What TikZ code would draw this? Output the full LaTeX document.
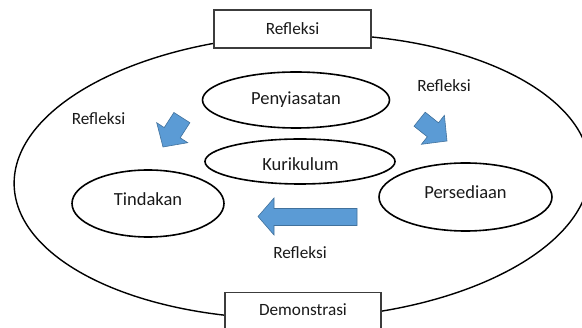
\documentclass[tikz,border=0pt]{standalone}
\usepackage{fontspec}
\setmainfont{Carlito}
\usetikzlibrary{shapes.geometric}
\definecolor{arrowfill}{HTML}{5B9BD5}
\definecolor{arrowline}{HTML}{41719C}
\definecolor{ink}{HTML}{1A1A1A}
\tikzset{
  ell/.style={draw=black, line width=1.6pt, ellipse, inner sep=0pt},
  outer/.style={draw=black, line width=1.4pt, ellipse, inner sep=0pt},
  box/.style={draw=ink!85, line width=1.4pt, fill=white, rectangle, inner sep=0pt},
  lbl/.style={text=ink, font=\fontsize{18.5}{20}\selectfont, inner sep=0pt},
  reflbl/.style={text=ink, font=\fontsize{17.2}{19}\selectfont, inner sep=0pt},
  blockarrow/.style={fill=arrowfill, draw=arrowline, line width=0.6pt, line join=miter}
}
\begin{document}
\begin{tikzpicture}[x=1pt, y=-1pt]
\useasboundingbox (0,0) rectangle (582,328);
\clip (0,0) rectangle (582,328);
% big outer ellipse
\node[outer, minimum width=576, minimum height=284, rotate=1.8] (big) at (302,176.5) {};
% top and bottom boxes
\node[box, minimum width=157, minimum height=38] (topbox) at (292.5,29) {};
\node[reflbl] (toptxt) at (topbox.center) {Refleksi};
\node[box, minimum width=156, minimum height=60, anchor=north] (botbox) at (303,292) {};
\node[reflbl] (bottxt) at (303,310) {Demonstrasi};
% inner ellipses
\node[ell, minimum width=187, minimum height=56] (peny) at (296,100) {};
\node[lbl] (penytxt) at (296,100) {Penyiasatan};
\node[ell, minimum width=190, minimum height=45] (kuri) at (300,161.5) {};
\node[lbl] (kuritxt) at (300.5,164) {Kurikulum};
\node[ell, minimum width=152, minimum height=67] (tind) at (148,203.5) {};
\node[lbl] (tindtxt) at (148,199) {Tindakan};
\node[ell, minimum width=173, minimum height=68] (pers) at (465.5,197) {};
\node[lbl] (perstxt) at (465.5,192) {Persediaan};
% labels
\node[reflbl] (refL) at (98.5,119) {Refleksi};
\node[reflbl] (refR) at (444,86) {Refleksi};
\node[reflbl] (refB) at (300,253) {Refleksi};
% block arrows
\draw[blockarrow] (163,147) -- (187.7,142.7) -- (180.2,137.8) -- (189.9,122.7)
  -- (173.9,112.5) -- (164.2,127.6) -- (156.7,122.7) -- cycle;
\draw[blockarrow] (447,141) -- (421.4,144.3) -- (427.3,136.8) -- (414,126.2)
  -- (425.2,112.2) -- (438.5,122.8) -- (444.4,115.3) -- cycle;
\draw[blockarrow] (258,216.5) -- (274,198) -- (274,208.5) -- (357,208.5)
  -- (357,225.5) -- (274,225.5) -- (274,235) -- cycle;
\end{tikzpicture}
\end{document}
